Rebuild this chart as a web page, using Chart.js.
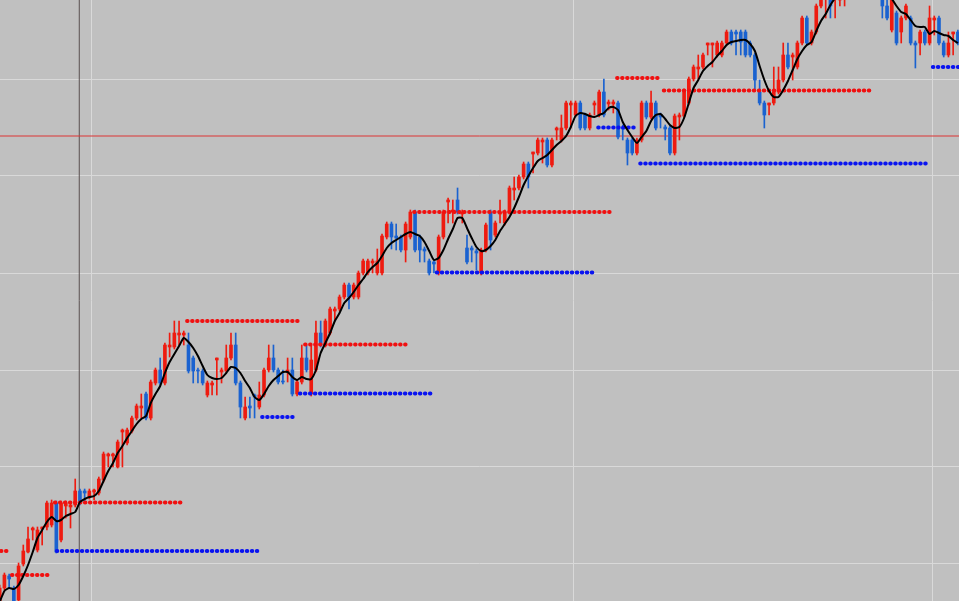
<!DOCTYPE html>
<html>
<head>
<meta charset="utf-8">
<script src="https://cdn.jsdelivr.net/npm/chart.js@4/dist/chart.umd.min.js"></script>
<style>
  html, body { margin: 0; padding: 0; background: #c0c0c0; }
  #wrap { width: 959px; height: 601px; position: relative; }
</style>
</head>
<body>
<div id="wrap"><canvas id="chart"></canvas></div>
<script>
// price in points, one candle per index
var opens = [-4,13,25,13,1,37,49,71,51,72, 74,76,98,61,95,94,96,110,110,104,
  109,108,121,145,145,134,169,158,170,183, 193,207,183,218,231,218,254,254,266,266,
  256,243,231,230,206,216,241,229,230,243, 256,218,183,195,206,194,206,231,243,231,
  220,229,231,207,219,243,207,231,268,256, 268,290,292,304,316,304,304,328,328,338,
  328,328,364,377,365,364,351,364,389,364, 352,340,339,328,364,399,389,401,387,353,
  353,350,328,351,389,366,387,378,389,411, 413,424,437,447,448,459,461,436,471,461,
  473,496,486,498,486,473,496,486,509,497, 497,498,474,461,461,448,461,498,484,498,
  486,474,473,448,484,485,498,522,532,534, 556,556,546,546,558,569,569,569,569,558,
  546,509,498,496,498,509,521,546,544,534, 558,583,558,569,595,602,605,603,601,603,
  610,618,625,620,628,622,615,611,595,571, 588,569,583,583,558,558,569,558,581,583,
  558,546,567,569];
var highs = [16,28,27,15,38,56,74,74,74,74, 100,101,100,100,100,98,122,112,112,112,
  112,124,149,148,148,161,172,173,185,197, 207,209,221,233,243,258,268,280,280,270,
  268,245,233,232,220,220,243,233,256,268, 268,220,204,204,207,219,233,256,256,233,
  231,243,243,221,256,256,256,280,280,282, 294,294,306,318,318,318,330,342,342,342,
  352,367,379,379,377,366,379,391,391,366, 354,342,340,366,391,403,401,413,391,366,
  355,352,353,378,391,380,401,391,415,424, 426,439,439,449,463,463,463,463,474,486,
  500,500,500,500,488,488,500,511,522,501, 501,500,476,463,463,463,500,500,510,500,
  488,476,475,487,488,512,524,536,546,548, 558,558,560,560,571,571,571,571,571,560,
  548,521,500,498,534,534,558,558,548,560, 585,585,571,597,609,606,609,609,603,613,
  622,628,630,632,631,626,618,613,606,605, 590,585,597,585,560,571,571,595,585,585,
  560,569,569,571];
var lows = [-7,11,13,-5,-1,35,48,61,49,56, 71,74,48,59,83,73,94,96,99,102,
  101,106,119,134,134,133,134,156,168,181, 183,181,181,216,216,216,244,252,256,256,
  228,218,218,216,204,206,206,218,228,241, 216,183,181,183,183,192,204,229,229,217,
  217,219,205,205,217,229,205,229,254,254, 266,280,290,302,292,302,302,326,326,328,
  326,326,362,352,351,349,339,362,349,339, 339,326,328,326,362,378,378,387,378,337,
  339,331,326,349,351,364,378,376,387,401, 411,422,413,428,446,438,434,434,461,459,
  471,473,484,471,471,471,486,484,484,491, 488,462,461,436,446,446,459,482,482,471,
  473,461,446,446,461,483,496,520,522,532, 546,534,544,544,556,556,546,546,544,544,
  511,496,473,486,496,507,519,532,521,532, 556,556,556,567,593,583,583,583,595,595,
  606,614,616,617,618,610,604,583,581,569, 556,558,581,556,533,546,556,556,566,556,
  544,544,546,556];
var closes = [13,26,22,-3,35,50,62,73,71,74, 98,98,49,98,98,96,110,98,108,110,
  111,122,147,147,147,159,171,171,183,195, 195,183,219,231,218,256,256,268,268,268,
  230,230,230,218,218,218,243,231,243,256, 218,194,194,193,204,206,231,243,231,219,
  219,231,207,219,243,231,241,268,256,280, 292,292,304,316,304,316,328,340,340,340,
  340,365,377,364,363,351,377,389,351,351, 350,328,337,364,389,401,391,389,389,339,
  351,348,351,376,361,378,389,389,413,413, 424,437,424,449,461,461,436,461,473,473,
  498,498,498,473,473,486,498,509,486,499, 499,464,472,448,448,461,498,484,498,473,
  484,472,448,485,486,510,522,534,534,546, 558,558,558,558,569,558,567,559,546,546,
  521,498,486,498,509,521,546,534,546,558, 583,558,569,595,606,604,595,605,603,611,
  618,625,620,628,622,615,609,595,583,603, 558,583,595,558,556,569,558,583,583,558,
  546,558,569,558];
// moving average
var maLine = [-1,10,13,12,16,25,36,49,63,71, 79,84,80,81,85,87,89,99,102,104,
  105,110,120,130,138,148,155,163,170,177, 182,185,198,207,215,228,239,247,255,263,
  259,253,245,235,226,223,222,223,228,234, 233,228,220,213,204,201,207,215,221,225,
  229,229,224,221,224,222,222,231,248,258, 268,280,288,298,303,309,316,322,329,334,
  338,345,353,358,361,364,367,369,367,365, 359,350,341,343,351,362,372,383,383,373,
  363,354,350,351,355,361,370,377,384,393, 404,416,425,433,440,443,446,451,456,460,
  465,474,485,488,487,485,484,486,488,493, 494,491,479,471,464,458,464,470,480,486,
  487,482,476,473,474,483,498,513,521,530, 535,539,545,550,556,559,560,561,561,557,
  550,535,521,510,504,504,511,520,531,542, 550,556,559,570,580,587,596,603,609,613,
  617,619,621,619,616,611,607,606,604,602, 595,589,587,581,575,574,574,567,570,568,
  566,565,561,558];

// dotted levels: [from, to, price]
var resistLevels = [[0.27,1.55,50],[2.6,10.9,26],[11.7,38.8,98.5],[39.7,63.6,280],
  [64.7,86.9,256.5],[87.8,130.1,389],[130.8,140.1,523],[140.7,184.8,510.5]];
var supportLevels = [[12.1,54.7,50],[55.6,62.8,184],[63.6,92.0,207.5],[92.6,126.1,328.5],
  [126.8,135.2,473.5],[135.7,197.1,437.5],[197.7,204,534]];

var gridLevels = [38, 134.5, 231, 328, 425, 522];
var gridColumns = [19.45, 121.5, 197.7];
var markerLevel = 465;
var markerBar = 16.86;

var RED = '#ee1b10';
var BLUE = '#1a62d0';

var bodyColors = opens.map(function(o, i) { return closes[i] >= o ? RED : BLUE; });
var bodies = opens.map(function(o, i) { return { x: i, y: [o, closes[i]] }; });
var wicks = lows.map(function(l, i) { return { x: i, y: [l, highs[i]] }; });
var maData = maLine.map(function(v, i) { return { x: i, y: v }; });

var datasets = [];
datasets.push({
  type: 'line', data: [{x: -1, y: markerLevel}, {x: 205, y: markerLevel}],
  borderColor: '#dc3434', borderWidth: 1, pointRadius: 0, order: 20
});
datasets.push({
  type: 'line', data: [{x: markerBar, y: -100}, {x: markerBar, y: 800}],
  borderColor: '#5a5050', borderWidth: 1, pointRadius: 0, order: 20
});
datasets.push({
  type: 'bar', data: wicks, backgroundColor: bodyColors, barThickness: 1,
  grouped: false, borderWidth: 0, order: 6
});
datasets.push({
  type: 'bar', data: bodies, backgroundColor: bodyColors, barThickness: 3,
  grouped: false, borderWidth: 0, order: 5
});
resistLevels.forEach(function(l) {
  datasets.push({
    type: 'line', data: [{x: l[0], y: l[2]}, {x: l[1], y: l[2]}],
    borderColor: '#f01010', borderWidth: 4, borderDash: [0.5, 4.5],
    borderCapStyle: 'round', pointRadius: 0, order: 3
  });
});
supportLevels.forEach(function(l) {
  datasets.push({
    type: 'line', data: [{x: l[0], y: l[2]}, {x: l[1], y: l[2]}],
    borderColor: '#0a14f0', borderWidth: 4, borderDash: [0.5, 4.5],
    borderCapStyle: 'round', pointRadius: 0, order: 3
  });
});
datasets.push({
  type: 'line', data: maData, borderColor: '#000000', borderWidth: 2,
  pointRadius: 0, tension: 0.2, order: 1
});

new Chart(document.getElementById('chart'), {
  type: 'bar',
  data: { datasets: datasets },
  options: {
    responsive: true,
    maintainAspectRatio: false,
    animation: false,
    devicePixelRatio: 1,
    layout: { padding: 0 },
    plugins: { legend: { display: false }, tooltip: { enabled: false } },
    scales: {
      x: {
        type: 'linear', min: 0.064, max: 203.24, offset: false,
        border: { display: false },
        grid: { color: '#d9d9d9', drawTicks: false, offset: false },
        ticks: { display: false },
        afterBuildTicks: function(s) { s.ticks = gridColumns.map(function(v) { return { value: v }; }); }
      },
      y: {
        type: 'linear', min: 0, max: 601,
        border: { display: false },
        grid: { color: '#d9d9d9', drawTicks: false },
        ticks: { display: false },
        afterBuildTicks: function(s) { s.ticks = gridLevels.map(function(v) { return { value: v }; }); }
      }
    }
  }
});
</script>
</body>
</html>
